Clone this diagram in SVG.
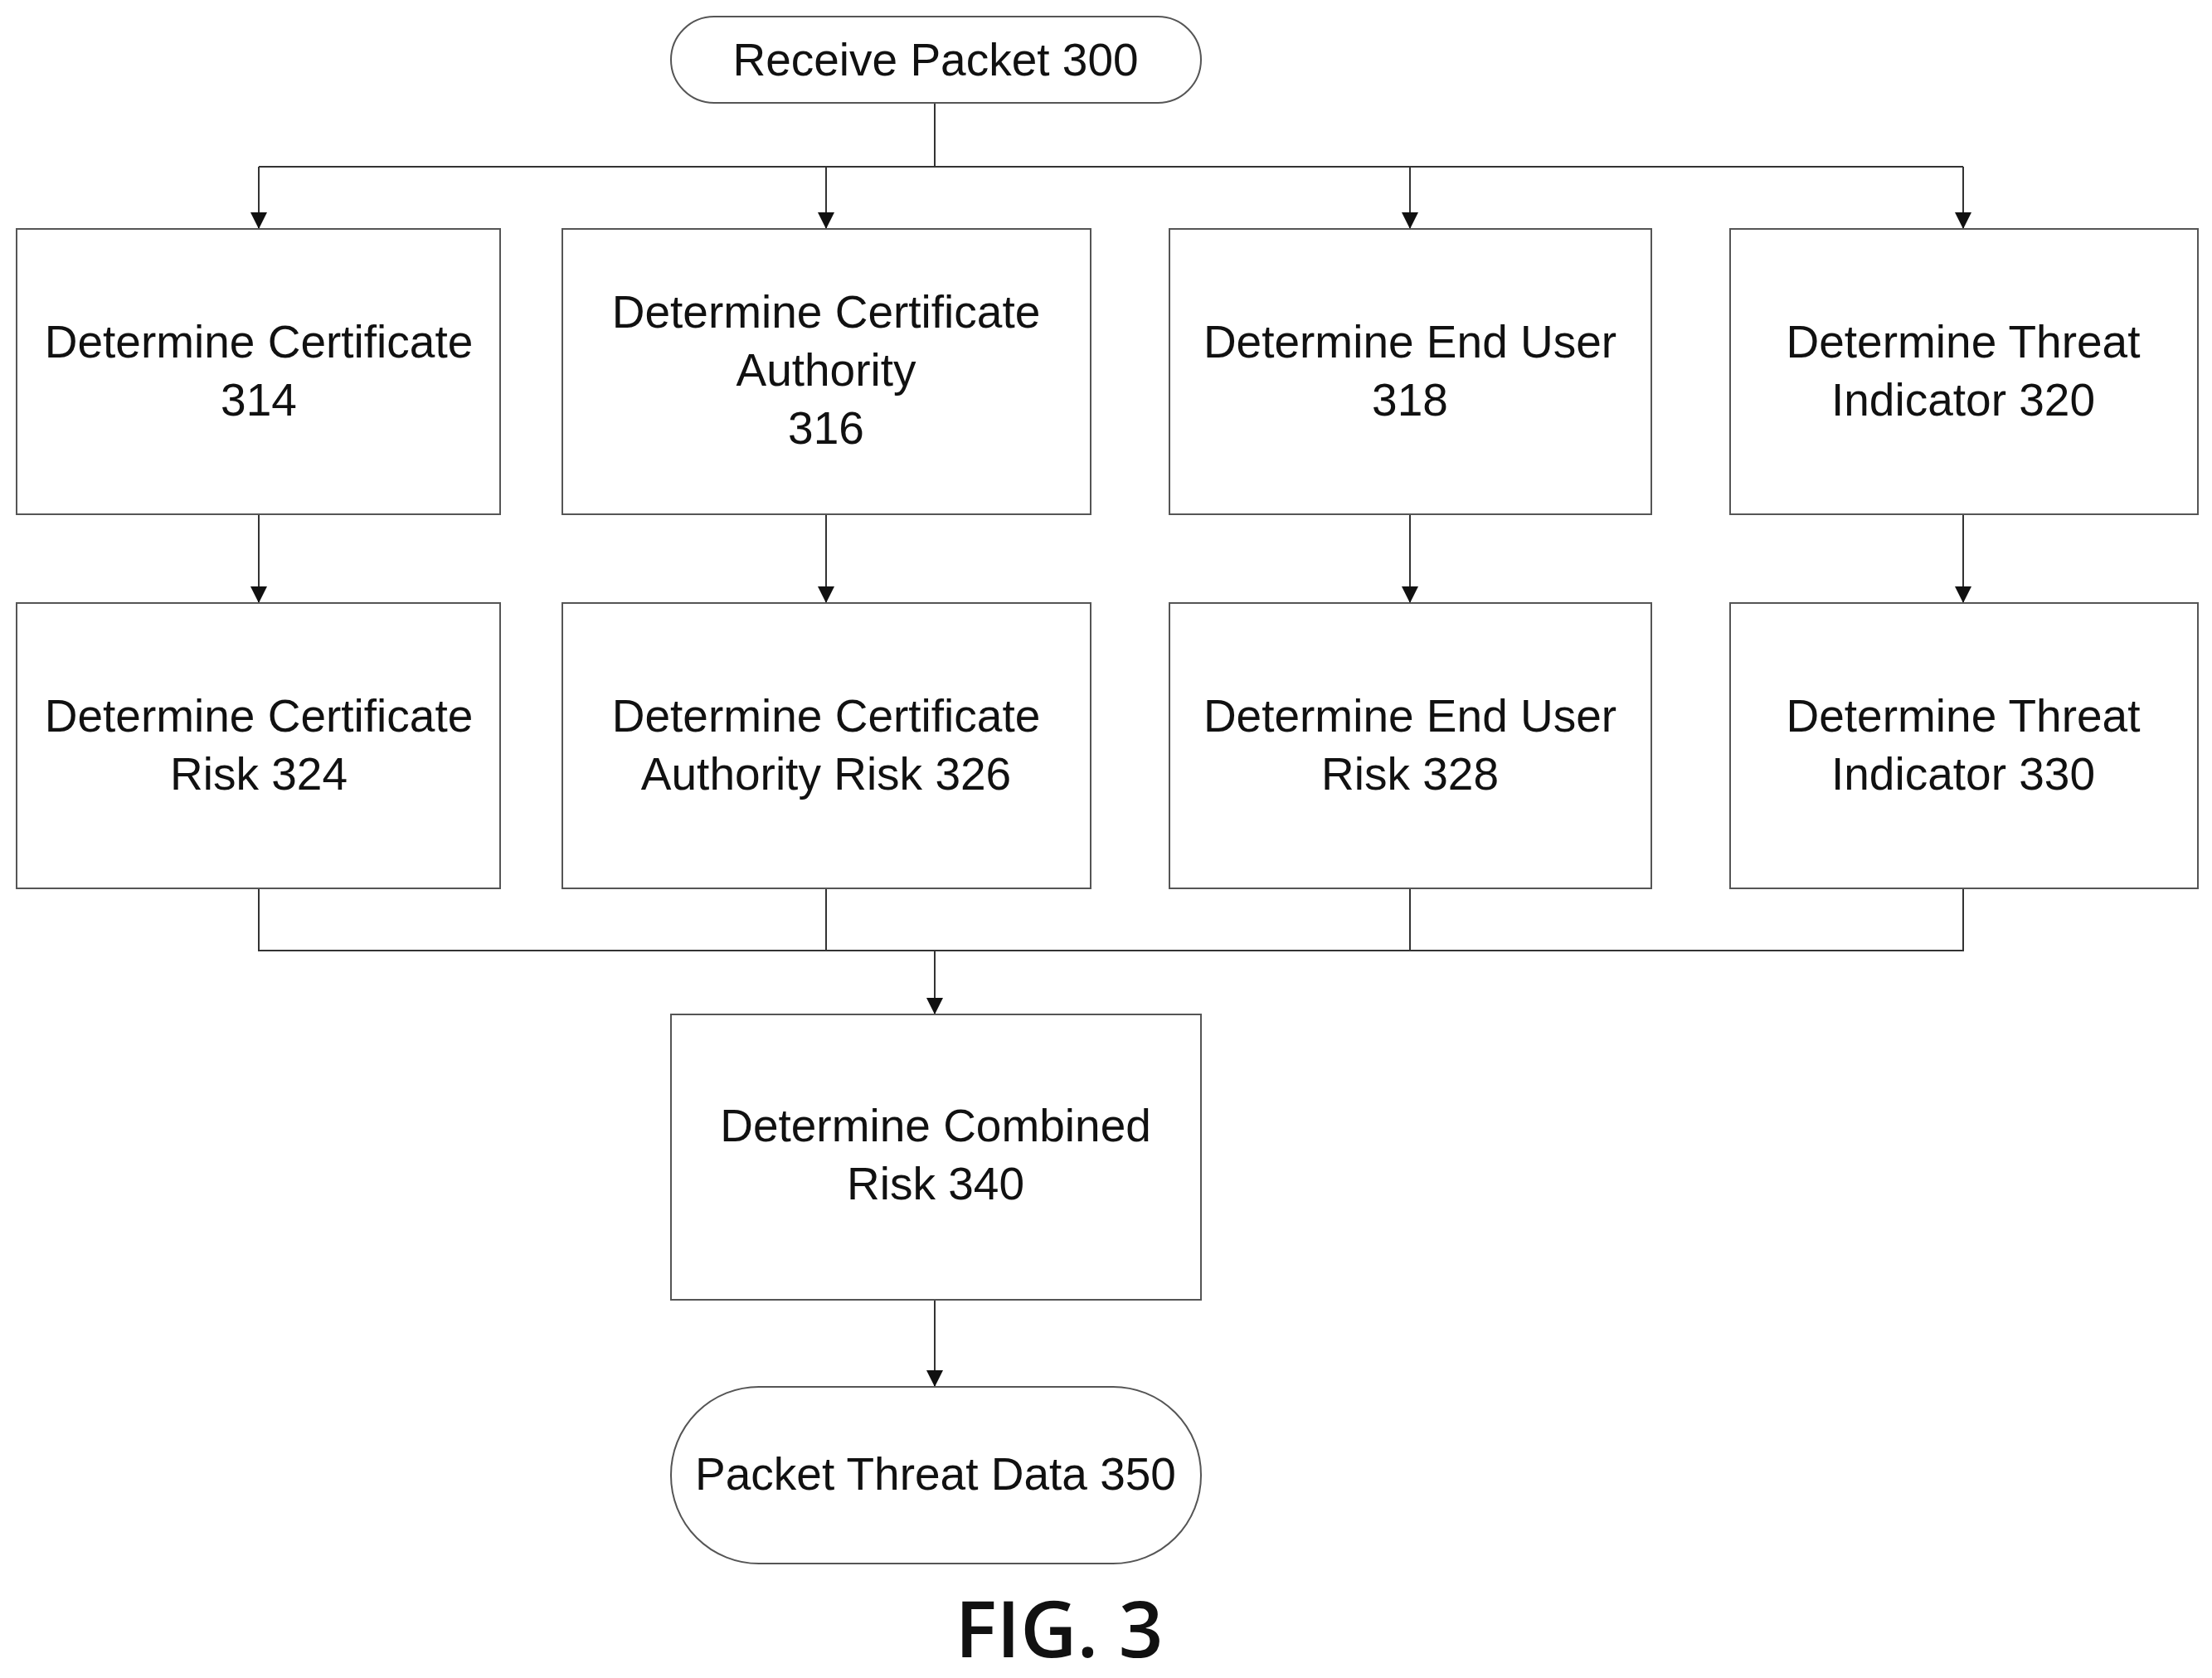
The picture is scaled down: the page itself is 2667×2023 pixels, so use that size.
<svg xmlns="http://www.w3.org/2000/svg" width="2667" height="2023" viewBox="0 0 2667 2023">
<style>
.b{fill:#fff;stroke:#555;stroke-width:2}
.t{font-family:"Liberation Sans",Arial,sans-serif;font-size:55px;fill:#111;text-anchor:middle;dominant-baseline:central}
.c{fill:none;stroke:#333;stroke-width:2}
</style>
<defs><marker id="a" markerWidth="10" markerHeight="10" refX="9" refY="5" orient="auto" markerUnits="userSpaceOnUse"><path d="M0,0 L10,5 L0,10 z" fill="#111" transform="scale(1)"/></marker>
<marker id="ar" viewBox="0 0 10 10" markerWidth="20" markerHeight="20" refX="10" refY="5" orient="auto" markerUnits="userSpaceOnUse"><path d="M0,0 L10,5 L0,10 z" fill="#111"/></marker></defs>
<rect width="2667" height="2023" fill="#fff"/>
<g id="connectors">
<path class="c" d="M1127,124 V201 M312,201 H2367"/>
<path class="c" marker-end="url(#ar)" d="M312,201 V276"/>
<path class="c" marker-end="url(#ar)" d="M996,201 V276"/>
<path class="c" marker-end="url(#ar)" d="M1700,201 V276"/>
<path class="c" marker-end="url(#ar)" d="M2367,201 V276"/>
<path class="c" marker-end="url(#ar)" d="M312,620 V727"/>
<path class="c" marker-end="url(#ar)" d="M996,620 V727"/>
<path class="c" marker-end="url(#ar)" d="M1700,620 V727"/>
<path class="c" marker-end="url(#ar)" d="M2367,620 V727"/>
<path class="c" d="M312,1071 V1146 H2367 V1071 M996,1071 V1146 M1700,1071 V1146"/>
<path class="c" marker-end="url(#ar)" d="M1127,1146 V1223"/>
<path class="c" marker-end="url(#ar)" d="M1127,1567 V1672"/>
</g>
<g id="n300"><rect class="b" x="809" y="20" width="639" height="104" rx="52"/><text class="t" x="1128" y="72">Receive Packet 300</text></g>
<g id="n314"><rect class="b" x="20" y="276" width="583" height="344"/><text class="t" x="312" y="412">Determine Certificate</text><text class="t" x="312" y="482">314</text></g>
<g id="n316"><rect class="b" x="678" y="276" width="637" height="344"/><text class="t" x="996" y="376">Determine Certificate</text><text class="t" x="996" y="446">Authority</text><text class="t" x="996" y="516">316</text></g>
<g id="n318"><rect class="b" x="1410" y="276" width="581" height="344"/><text class="t" x="1700" y="412">Determine End User</text><text class="t" x="1700" y="482">318</text></g>
<g id="n320"><rect class="b" x="2086" y="276" width="564" height="344"/><text class="t" x="2367" y="412">Determine Threat</text><text class="t" x="2367" y="482">Indicator 320</text></g>
<g id="n324"><rect class="b" x="20" y="727" width="583" height="344"/><text class="t" x="312" y="863">Determine Certificate</text><text class="t" x="312" y="933">Risk 324</text></g>
<g id="n326"><rect class="b" x="678" y="727" width="637" height="344"/><text class="t" x="996" y="863">Determine Certificate</text><text class="t" x="996" y="933">Authority Risk 326</text></g>
<g id="n328"><rect class="b" x="1410" y="727" width="581" height="344"/><text class="t" x="1700" y="863">Determine End User</text><text class="t" x="1700" y="933">Risk 328</text></g>
<g id="n330"><rect class="b" x="2086" y="727" width="564" height="344"/><text class="t" x="2367" y="863">Determine Threat</text><text class="t" x="2367" y="933">Indicator 330</text></g>
<g id="n340"><rect class="b" x="809" y="1223" width="639" height="344"/><text class="t" x="1128" y="1357">Determine Combined</text><text class="t" x="1128" y="1427">Risk 340</text></g>
<g id="n350"><rect class="b" x="809" y="1672" width="639" height="213" rx="106"/><text class="t" x="1128" y="1777">Packet Threat Data 350</text></g>
<text x="1277" y="1998" font-family="'Open Sans','DejaVu Sans',sans-serif" font-size="94" font-weight="600" text-anchor="middle" fill="#111">FIG. 3</text>
</svg>
